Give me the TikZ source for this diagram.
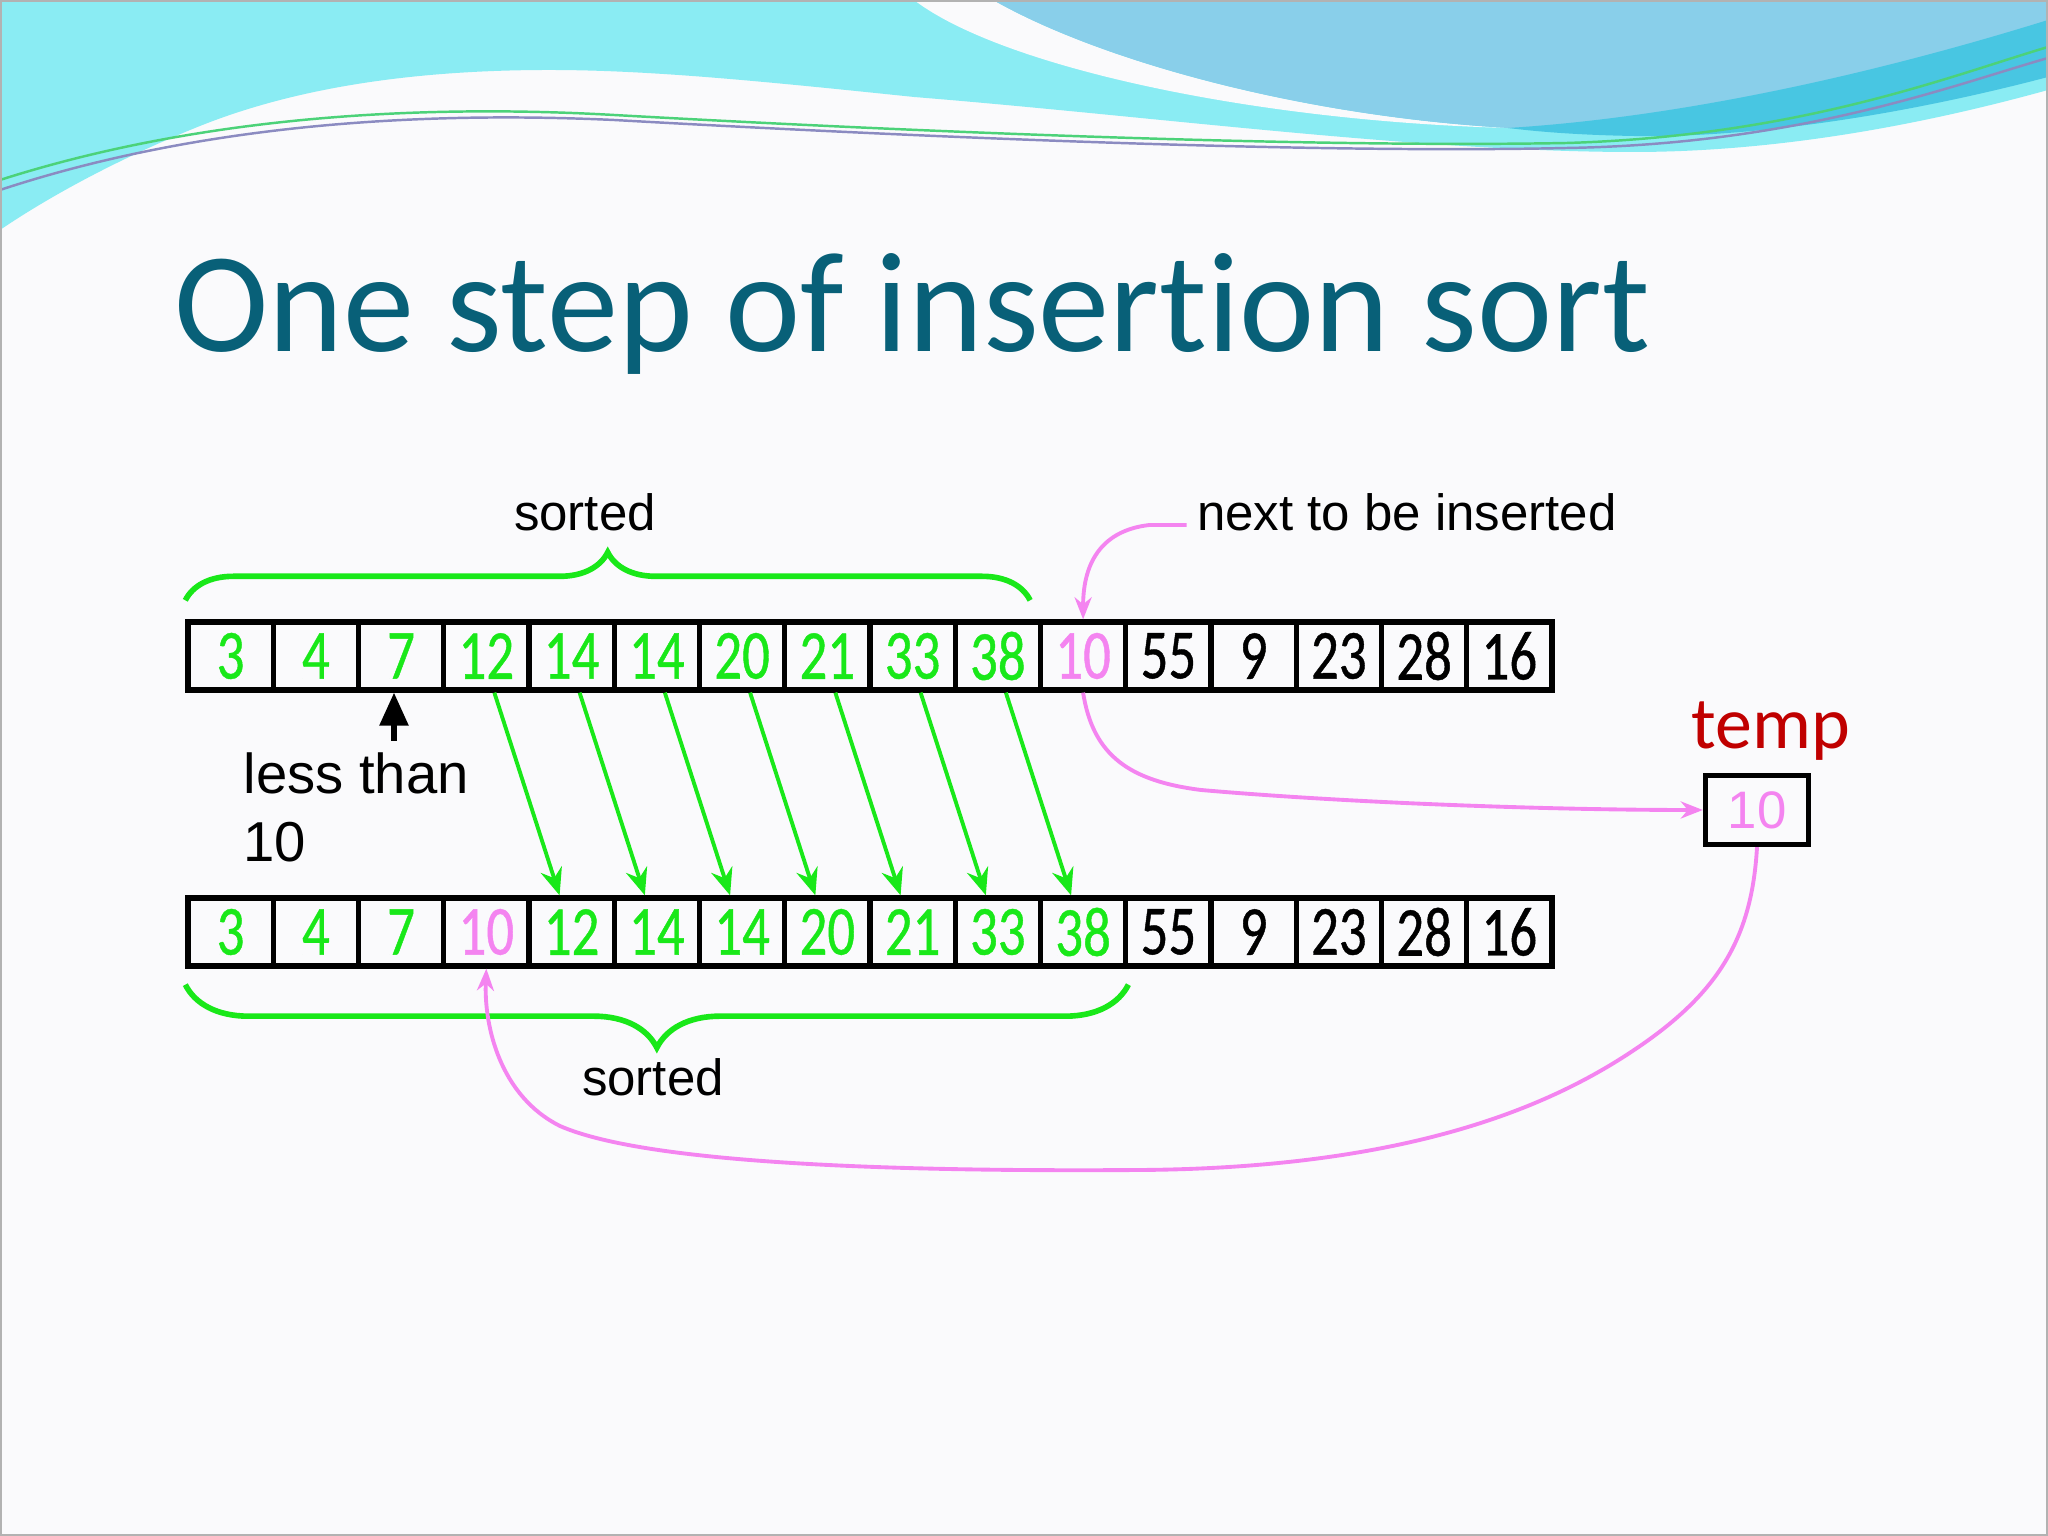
\documentclass[tikz,border=0pt]{standalone}
\usepackage{fontspec}
\setmainfont{Carlito}[Ligatures={NoCommon,NoContextual}]
\newfontfamily\arialfont{Liberation Sans}
\newfontfamily\digitfont[FakeStretch=0.78,FakeBold=0.6]{Carlito}
\usetikzlibrary{arrows.meta,decorations.pathreplacing}

\definecolor{slidebg}{RGB}{250,250,252}
\definecolor{titleteal}{RGB}{8,96,120}
\definecolor{tempred}{RGB}{192,0,0}
\definecolor{sortgreen}{RGB}{25,232,25}
\definecolor{movepink}{RGB}{244,132,240}
\definecolor{wavecyan}{RGB}{138,236,243}
\definecolor{waveblue}{RGB}{137,207,234}
\definecolor{waveband}{RGB}{72,198,226}

\tikzset{
  cell/.style={draw, line width=1.5pt, minimum width=0.8525cm, minimum height=0.68cm,
    inner sep=0pt, font=\digitfont\fontsize{20}{20}\selectfont},
  lbl/.style={inner sep=0pt, font=\arialfont\fontsize{14.5}{17}\selectfont},
  shiftarrow/.style={draw=sortgreen, line width=1.1pt,
    -{Stealth[length=0.27cm, width=0.22cm, inset=0.09cm]}},
  pinkarrow/.style={draw=movepink, line width=1.1pt,
    -{Stealth[length=0.22cm, width=0.17cm, inset=0.07cm]}},
  ptrarrow/.style={line width=1.6pt, -{Triangle[length=0.33cm, width=0.28cm]}},
  sortbrace/.style={draw=sortgreen, line width=1.6pt, decorate,
    decoration={brace, amplitude=#1}}
}

\begin{document}
\begin{tikzpicture}[x=0.01cm, y=0.01cm]
  \useasboundingbox (0,0) rectangle (2048,1536);
  \fill[slidebg] (0,0) rectangle (2048,1536);

  % slide waves
  \fill[wavecyan] (0,1536) -- (2048,1536) -- (2048,1446) .. controls (1900,1405) and (1760,1384) .. (1633,1384)
    .. controls (1420,1384) and (1150,1420) .. (914,1439) .. controls (760,1455) and (650,1466) .. (549,1466)
    .. controls (420,1466) and (300,1450) .. (200,1410) .. controls (120,1378) and (50,1340) .. (0,1306) -- cycle;
  \fill[slidebg] (914,1536) .. controls (1000,1470) and (1250,1415) .. (1508,1408)
    .. controls (1300,1420) and (1100,1475) .. (993,1536) -- cycle;
  \fill[waveblue] (993,1536) -- (2048,1536) -- (2048,1500) .. controls (1900,1440) and (1700,1400) .. (1508,1408)
    .. controls (1300,1420) and (1100,1475) .. (993,1536) -- cycle;
  \fill[waveband] (1508,1408) .. controls (1700,1420) and (1900,1470) .. (2048,1516) -- (2048,1459)
    .. controls (1900,1420) and (1750,1398) .. (1633,1400) .. controls (1580,1401) and (1540,1404) .. (1508,1408) -- cycle;
  \draw[line width=0.7pt, teal!50!green!70!white] (0,1356) .. controls (200,1420) and (420,1432) .. (614,1421)
    .. controls (900,1405) and (1300,1388) .. (1567,1393) .. controls (1800,1400) and (1950,1460) .. (2048,1489);
  \draw[line width=0.7pt, blue!30!gray!70!white] (0,1346) .. controls (200,1412) and (420,1425) .. (614,1416)
    .. controls (900,1400) and (1300,1382) .. (1567,1388) .. controls (1800,1392) and (1950,1450) .. (2048,1478);
  \draw[gray!60, line width=1pt] (0,0) rectangle (2048,1536);

  \node[anchor=base west, inner sep=0pt, text=titleteal, font=\fontsize{40.5}{48}\selectfont]
    (title) at (174,1184) {One step of insertion sort};

  % the two rows
  \foreach \val/\col [count=\k from 0] in {3/sortgreen,4/sortgreen,7/sortgreen,12/sortgreen,14/sortgreen,
      14/sortgreen,20/sortgreen,21/sortgreen,33/sortgreen,38/sortgreen,10/movepink,55/black,9/black,23/black,28/black,16/black}{
    \node[cell, text=\col] (t\k) at (230.6+85.25*\k, 880) {\val};
  }
  \foreach \val/\col [count=\k from 0] in {3/sortgreen,4/sortgreen,7/sortgreen,10/movepink,12/sortgreen,14/sortgreen,
      14/sortgreen,20/sortgreen,21/sortgreen,33/sortgreen,38/sortgreen,55/black,9/black,23/black,28/black,16/black}{
    \node[cell, text=\col] (b\k) at (230.6+85.25*\k, 604) {\val};
  }

  \foreach \k [count=\n from 4] in {3,...,9}
    \draw[shiftarrow] ([xshift=0.08cm]t\k.south) -- ([xshift=-0.12cm]b\n.north);

  % braces
  \draw[sortbrace=0.48cm] ([yshift=0.19cm]t0.north west) -- ([xshift=-0.13cm, yshift=0.19cm]t9.north east);
  \draw[sortbrace=0.63cm] ([yshift=-0.16cm]b10.south east) -- ([yshift=-0.16cm]b0.south west);
  \node[lbl] (sortedtop) at (585,1024) {sorted};
  \node[lbl] (sortedbot) at (653,459) {sorted};
  \node[lbl] (nextlbl) at (1407,1024) {next to be inserted};

  % pointer under 7
  \node[anchor=north west, align=left, inner sep=0pt, font=\arialfont\fontsize{16}{19.3}\selectfont]
    (lessthan) at (243,784) {less than\\10};
  \coordinate (ptrfoot) at (394,795);
  \draw[ptrarrow] (ptrfoot) -- (t2.south -| ptrfoot);

  % temp
  \node[text=tempred, inner sep=0pt, font=\fontsize{21}{24}\selectfont] (templbl) at (1771,805) {temp};
  \node[draw, line width=1.5pt, minimum width=1.03cm, minimum height=0.69cm, inner sep=0pt,
    text=movepink, font=\arialfont\fontsize{15}{15}\selectfont] (tempbox) at (1757,726) {10};

  \draw[pinkarrow] ([xshift=-0.1cm, yshift=-0.13cm]nextlbl.west) -- ++(-37,0)
    .. controls +(-45,-5) and +(0,60) .. (t10.north);
  \draw[pinkarrow] (t10.south) .. controls (1093,780) and (1130,755) .. (1201,746)
    .. controls (1350,733) and (1550,726) .. (tempbox.west);
  \draw[pinkarrow] (tempbox.south) .. controls (1752,600) and (1720,545) .. (1640,490)
    .. controls (1560,435) and (1420,368) .. (1140,366) .. controls (860,364) and (640,375) .. (560,410)
    .. controls (500,440) and (484,510) .. (b3.south);
\end{tikzpicture}
\end{document}
